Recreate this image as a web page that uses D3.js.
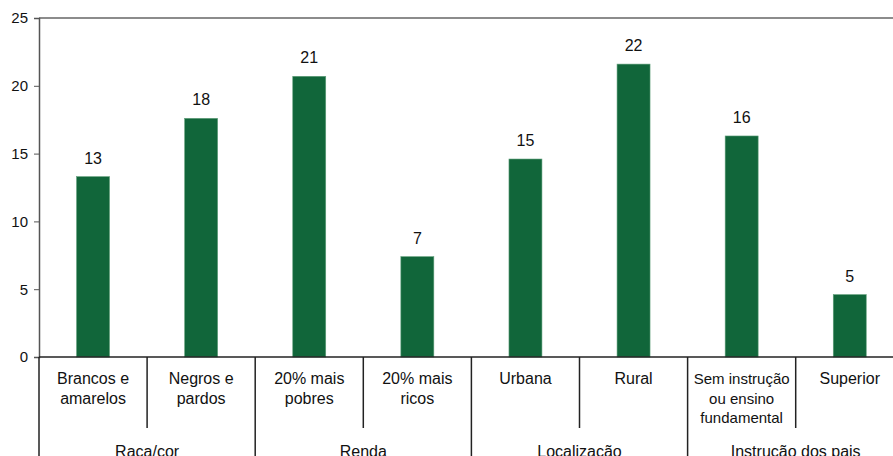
<!DOCTYPE html>
<html>
<head>
<meta charset="utf-8">
<script src="https://cdn.jsdelivr.net/npm/d3@7"></script>
<style>
  html, body { margin: 0; padding: 0; background: #fff; }
  svg { display: block; font-family: "Liberation Sans", Arial, sans-serif; }
</style>
</head>
<body>
<svg id="chart" width="893" height="456"></svg>
<script>
// Categories (label lines), their group, and the bar values
const categories = ["brancos", "negros", "pobres", "ricos", "urbana", "rural", "semInstrucao", "superior"];
const categoryLines = [
  ["Brancos e", "amarelos"],
  ["Negros e", "pardos"],
  ["20% mais", "pobres"],
  ["20% mais", "ricos"],
  ["Urbana"],
  ["Rural"],
  ["Sem instrução", "ou ensino", "fundamental"],
  ["Superior"]
];
const groupNames = ["Raça/cor", "Renda", "Localização", "Instrução dos pais"];
const groupSizes = [2, 2, 2, 2];
const values = [13.3, 17.6, 20.7, 7.4, 14.6, 21.6, 16.3, 4.6];
const yTicks = [0, 5, 10, 15, 20, 25];

(function draw() {
  const W = 893, H = 456;
  const plotLeft = 39, plotTop = 18, plotBase = 357;
  const step = 108.1;
  const plotRight = plotLeft + step * categories.length;

  const svg = d3.select("#chart");

  const x = d3.scaleBand()
    .domain(categories)
    .range([plotLeft, plotRight])
    .paddingInner(0.695)
    .paddingOuter(0.3475);

  const y = d3.scaleLinear().domain([0, 25]).range([plotBase, plotTop]);

  const fmt = d3.format(".0f");
  const halfGap = x.step() * x.paddingInner() / 2;

  // top frame line
  svg.append("line")
    .attr("x1", plotLeft).attr("x2", W)
    .attr("y1", y(25)).attr("y2", y(25))
    .attr("stroke", "#666").attr("stroke-width", 1.5);

  // y axis
  const yAxis = svg.append("g")
    .attr("transform", `translate(${plotLeft},0)`)
    .call(d3.axisLeft(y).tickValues(yTicks).tickSize(5).tickPadding(6).tickFormat(d3.format("d")));
  yAxis.select(".domain").attr("stroke", "#555").attr("stroke-width", 1.5);
  yAxis.selectAll(".tick line").attr("stroke", "#555");
  yAxis.selectAll(".tick text")
    .attr("fill", "#111")
    .style("font-size", "15px")
    .style("font-family", "Liberation Sans, Arial, sans-serif");

  // bars
  svg.append("g").selectAll("rect")
    .data(values)
    .join("rect")
    .attr("x", (d, i) => x(categories[i]))
    .attr("width", x.bandwidth())
    .attr("y", d => y(d))
    .attr("height", d => y(0) - y(d))
    .attr("fill", "#11663a")
    .attr("stroke", "#5f9e79")
    .attr("stroke-width", 0.6);

  // value labels
  svg.append("g").selectAll("text")
    .data(values)
    .join("text")
    .attr("x", (d, i) => x(categories[i]) + x.bandwidth() / 2)
    .attr("y", d => y(d) - 13)
    .attr("text-anchor", "middle")
    .attr("fill", "#111")
    .style("font-size", "16px")
    .text(d => fmt(d));

  // baseline
  svg.append("line")
    .attr("x1", plotLeft).attr("x2", W)
    .attr("y1", y(0)).attr("y2", y(0))
    .attr("stroke", "#222").attr("stroke-width", 1.5);

  // left frame below the baseline
  svg.append("line")
    .attr("x1", plotLeft).attr("x2", plotLeft)
    .attr("y1", y(0)).attr("y2", H)
    .attr("stroke", "#222").attr("stroke-width", 1.5);

  // category dividers; group boundaries run to the bottom
  const groupEnds = d3.cumsum(groupSizes);
  for (let i = 1; i < categories.length; i++) {
    const xi = x(categories[i]) - halfGap;
    const isGroupEdge = groupEnds.includes(i);
    svg.append("line")
      .attr("x1", xi).attr("x2", xi)
      .attr("y1", y(0)).attr("y2", isGroupEdge ? H : 428)
      .attr("stroke", "#222").attr("stroke-width", 1.5);
  }

  // category labels
  const catG = svg.append("g");
  categories.forEach((c, i) => {
    const cx = x(c) + x.bandwidth() / 2;
    const t = catG.append("text")
      .attr("text-anchor", "middle")
      .attr("fill", "#111")
      .style("font-size", categoryLines[i].length > 2 ? "15px" : "16px");
    categoryLines[i].forEach((line, j) => {
      t.append("tspan").attr("x", cx).attr("y", 384 + j * 19.5).text(line);
    });
  });

  // group labels
  let start = 0;
  groupNames.forEach((g, k) => {
    const x0 = x(categories[start]) - halfGap;
    const endIdx = start + groupSizes[k] - 1;
    const x1 = x(categories[endIdx]) + x.bandwidth() + halfGap;
    svg.append("text")
      .attr("x", (x0 + x1) / 2)
      .attr("y", 457)
      .attr("text-anchor", "middle")
      .attr("fill", "#111")
      .style("font-size", "16px")
      .text(g);
    start += groupSizes[k];
  });
})();
</script>
</body>
</html>
